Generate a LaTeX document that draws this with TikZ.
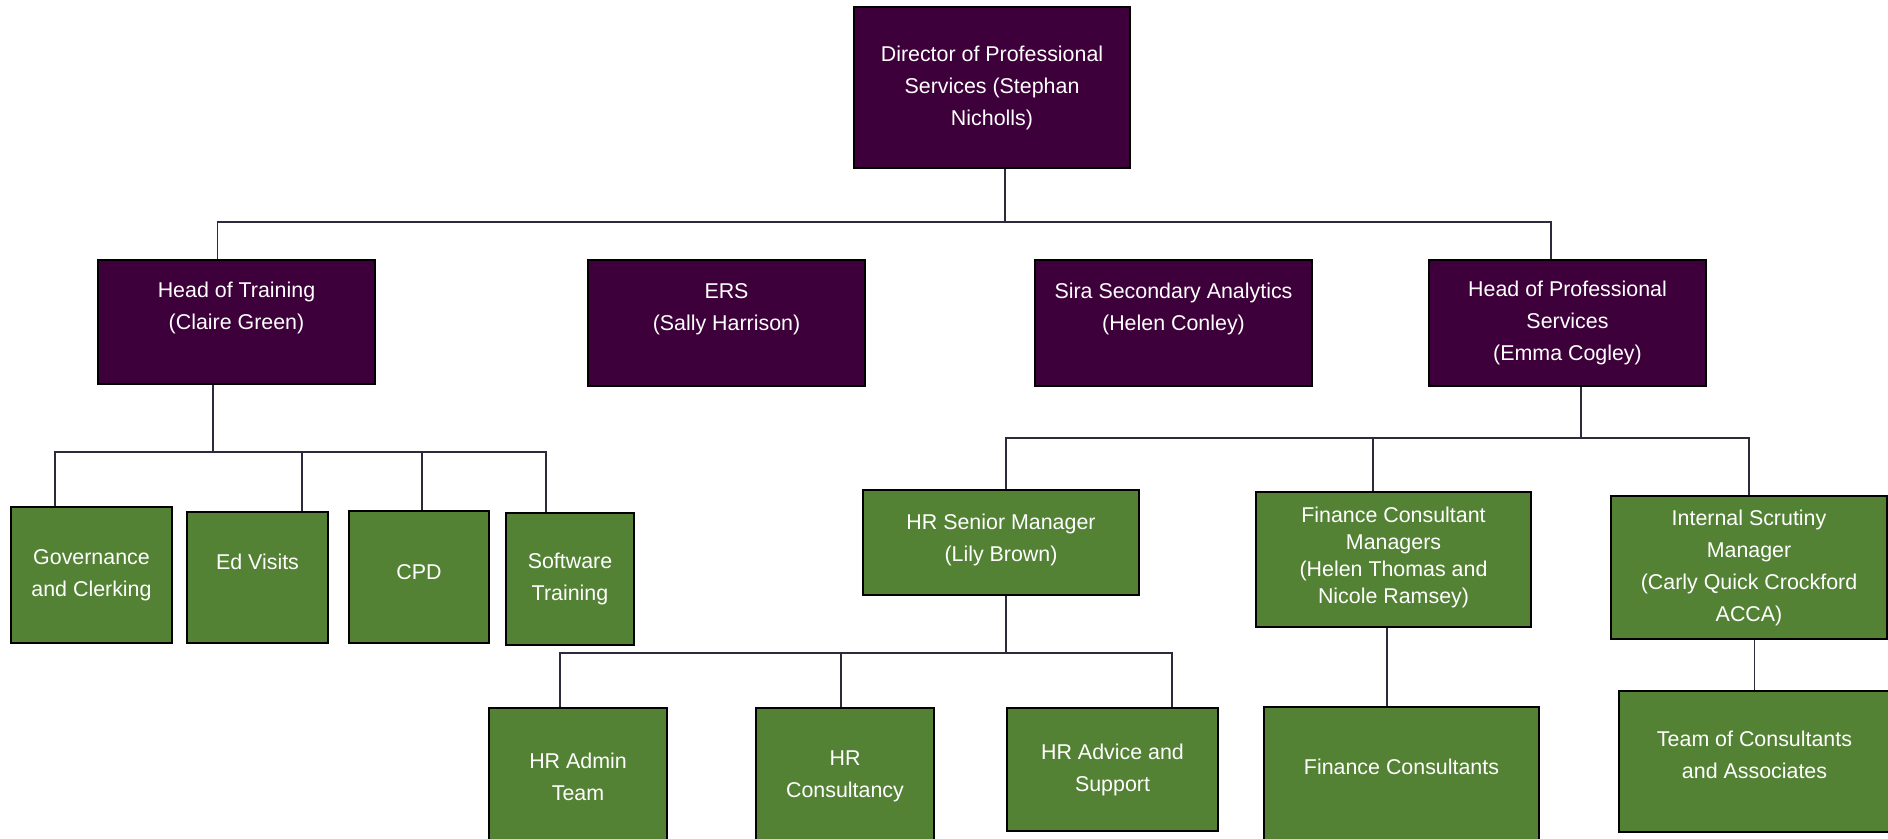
\documentclass[tikz,border=0pt]{standalone}
\usepackage{fontspec}
\setmainfont{Liberation Sans}
\usepackage{xcolor}
\usetikzlibrary{positioning, calc}
\definecolor{deeppurple}{RGB}{62,0,58}
\definecolor{leafgreen}{RGB}{84,130,53}
\definecolor{linegray}{RGB}{45,42,60}

\tikzset{
  orgbox/.style={draw=black, line width=1pt, text=white, align=center, inner sep=0pt,
    font=\fontsize{10.7}{16}\selectfont},
  headbox/.style={orgbox, fill=deeppurple},
  teambox/.style={orgbox, fill=leafgreen},
  boxsize/.style 2 args={minimum width=#1, minimum height=#2},
  link/.style={draw=linegray, line width=0.8pt}
}

\begin{document}
\begin{tikzpicture}[x=0.5pt, y=-0.5pt]
  \useasboundingbox (0,0) rectangle (1888,839);
  % Director and heads
  \node[headbox, boxsize={138pt}{80.5pt}] (dir) at (992,87.5) {Director of Professional\\Services (Stephan\\Nicholls)};
  \node[headbox, boxsize={138.5pt}{62pt}] (hot) at (236.5,322) {Head of Training\\(Claire Green)\\\mbox{}};
  \node[headbox, boxsize={138.5pt}{63pt}] (ers) at (726.5,323) {ERS\\(Sally Harrison)\\\mbox{}};
  \node[headbox, boxsize={138.5pt}{63pt}] (sira) at (1173.5,323) {Sira Secondary Analytics\\(Helen Conley)\\\mbox{}};
  \node[headbox, boxsize={138.5pt}{63pt}] (hps) at (1567.5,323) {Head of Professional\\Services\\(Emma Cogley)};
  % Training teams
  \node[teambox, boxsize={80.5pt}{68pt}] (gov) at (91.5,575) {Governance\\and Clerking};
  \node[teambox, boxsize={70.5pt}{65.5pt}] (edv) at (257.5,577.5) {Ed Visits\\\mbox{}};
  \node[teambox, boxsize={70pt}{66pt}] (cpd) at (419,577) {CPD\\[-11pt]\mbox{}};
  \node[teambox, boxsize={64pt}{66pt}] (swt) at (570,579) {Software\\Training};
  % Professional services managers
  \node[teambox, boxsize={138pt}{52.5pt}] (hrsm) at (1001,542.5) {HR Senior Manager\\(Lily Brown)\\[-11pt]\mbox{}};
  \node[teambox, boxsize={137.5pt}{67.5pt}, font=\fontsize{10.7}{13.5}\selectfont] (fcm) at (1393.5,559.5) {Finance Consultant\\Managers\\(Helen Thomas and\\Nicole Ramsey)\\[-9pt]\mbox{}};
  \node[teambox, boxsize={138pt}{71.5pt}] (ism) at (1749,567.5) {Internal Scrutiny\\Manager\\(Carly Quick Crockford\\ACCA)};
  % Bottom teams
  \node[teambox, boxsize={89pt}{68.5pt}] (hra) at (578,776.5) {HR Admin\\Team};
  \node[teambox, boxsize={89pt}{68.5pt}] (hrc) at (845,776.5) {HR\\Consultancy};
  \node[teambox, boxsize={105.5pt}{61.5pt}] (hrad) at (1112.5,769.5) {HR Advice and\\Support};
  \node[teambox, boxsize={137.5pt}{69pt}] (fc) at (1401.5,776) {Finance Consultants\\[-7pt]\mbox{}};
  \node[teambox, boxsize={135.5pt}{70.5pt}] (team) at (1754.5,761.5) {Team of Consultants\\and Associates\\[-9pt]\mbox{}};

  % Bus junctions
  \coordinate (topbus) at (1005,222);
  \coordinate (trainbus) at (213,452);
  \coordinate (profbus) at (1581,438);
  \coordinate (hrbus) at (1006,653);

  % Connectors
  \draw[link] (dir.south -| topbus) -- (topbus);
  \draw[link] ([xshift=-9.5pt]hot.north) |- (topbus) -| ([xshift=-8.25pt]hps.north);

  \draw[link] (hot.south -| trainbus) -- (trainbus);
  \draw[link] ([xshift=-18.25pt]gov.north) |- (trainbus) -| ([xshift=-12pt]swt.north);
  \foreach \n/\dx in {edv/22.25pt, cpd/1.5pt}
    \draw[link] ([xshift=\dx]\n.north) -- ([xshift=\dx]\n.north |- trainbus);

  \draw[link] (hps.south -| profbus) -- (profbus);
  \draw[link] ([xshift=2.5pt]hrsm.north) |- (profbus) -| (ism.north);
  \draw[link] ([xshift=-10.25pt]fcm.north) -- ([xshift=-10.25pt]fcm.north |- profbus);

  \draw[link] (hrsm.south -| hrbus) -- (hrbus);
  \draw[link] ([xshift=-9pt]hra.north) |- (hrbus) -| ([xshift=29.75pt]hrad.north);
  \draw[link] ([xshift=-2pt]hrc.north) -- ([xshift=-2pt]hrc.north |- hrbus);

  \draw[link] ([xshift=-3.25pt]fcm.south) -- ([xshift=-3.25pt]fcm.south |- fc.north);
  \draw[link] (ism.south -| team.north) -- (team.north);
\end{tikzpicture}
\end{document}
